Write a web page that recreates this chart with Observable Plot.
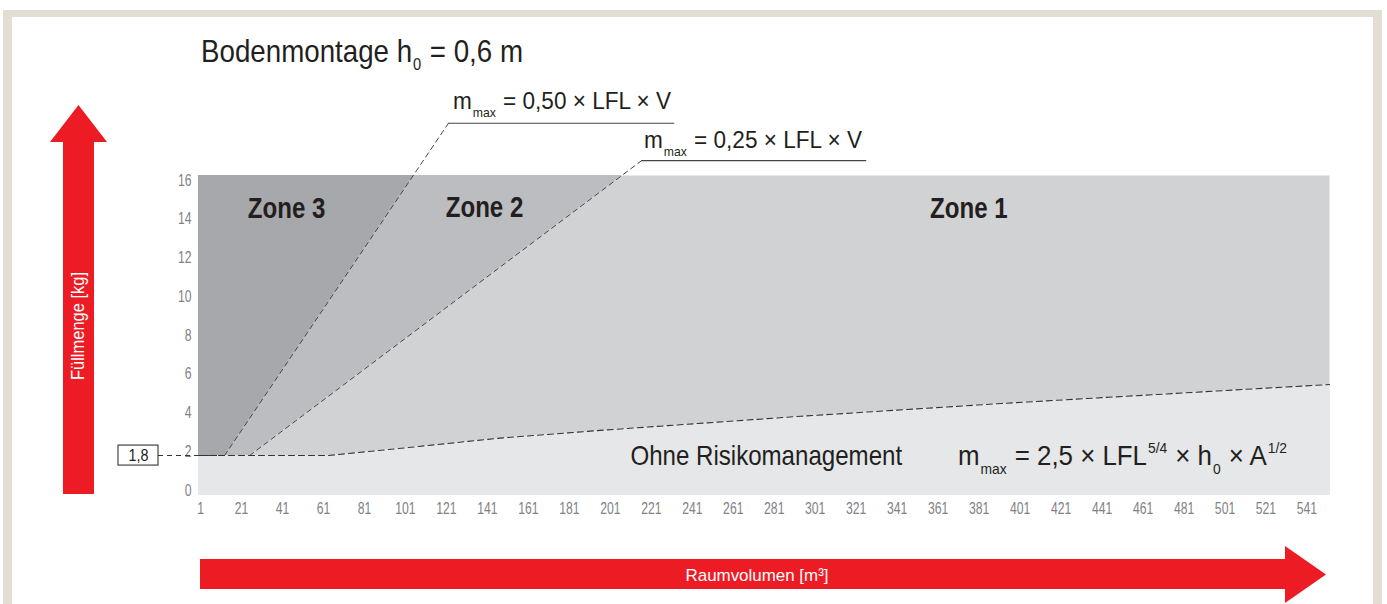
<!DOCTYPE html>
<html>
<head>
<meta charset="utf-8">
<script src="https://cdn.jsdelivr.net/npm/d3@7"></script>
<script src="https://cdn.jsdelivr.net/npm/@observablehq/plot@0.6"></script>
<style>
  html, body { margin: 0; padding: 0; background: #ffffff; }
  #wrap { position: relative; width: 1387px; height: 604px; overflow: hidden; background: #ffffff; }
  #wrap svg { position: absolute; left: 0; top: 0; }
  #overlay { pointer-events: none; font-family: "Liberation Sans", Arial, sans-serif; }
</style>
</head>
<body>
<div id="wrap"></div>
<script>
// ---------- data ----------
const xTicks = [1, 21, 41, 61, 81, 101, 121, 141, 161, 181, 201, 221, 241, 261, 281, 301, 321, 341, 361, 381, 401, 421, 441, 461, 481, 501, 521, 541];
const yTicks = [0, 2, 4, 6, 8, 10, 12, 14, 16];
const minCharge = 1.8;

// boundary m = 0,50 x LFL x V (volume, charge)
const line050V = [12.7, 122];
const line050M = [1.8, 18.96];
// boundary m = 0,25 x LFL x V
const line025V = [24.9, 216.3];
const line025M = [1.8, 17.03];
// boundary "ohne Risikomanagement": m = 2,5 x LFL^5/4 x h0 x A^1/2
const ohneV = [0, 63, 101, 147, 196, 294, 392, 552];
const ohneM = [1.8, 1.8, 2.2, 2.7, 3.1, 3.83, 4.49, 5.47];

// underline extents of the two formula labels
const under050V = [122, 232];
const under025V = [216.3, 325.7];

const zoneNames = ["Zone 3", "Zone 2", "Zone 1"];
const zoneV = [43, 139.6, 376];
const zoneM = [14.55, 14.6, 14.55];

const ohneLabel = "Ohne Risikomanagement";
const ohneLabelV = [210.8];

const xDomain = [0, 552];
const yDomain = [-0.21, 16.26];

// ---------- tables ----------
const pts = (vs, ms) => vs.map((v, i) => ({v, m: ms[i]}));
const l050 = pts(line050V, line050M);
const l025 = pts(line025V, line025M);
const ohne = pts(ohneV, ohneM);
const u050 = under050V.map(v => ({v, m: line050M[1]}));
const u025 = under025V.map(v => ({v, m: line025M[1]}));
const zones = zoneNames.map((name, i) => ({name, v: zoneV[i], m: zoneM[i]}));

const FONT = '"Liberation Sans", Arial, sans-serif';
const INK = "#231f20";
const DASH = "#333333";
const colZone3 = "#a7a8ab", colZone2 = "#bcbdc0", colZone1 = "#d1d2d4", colOhne = "#e6e7e8";

const chart = Plot.plot({
  width: 1387,
  height: 604,
  marginLeft: 198,
  marginRight: 58,
  marginTop: 175,
  marginBottom: 110,
  style: {fontFamily: FONT, fontSize: "16px", color: "#808285", background: "transparent", overflow: "visible"},
  x: {domain: xDomain, label: null},
  y: {domain: yDomain, label: null},
  marks: [
    Plot.frame({fill: colZone1, stroke: null}),
    Plot.areaX(l025, {y: "m", x1: xDomain[0], x2: "v", fill: colZone2, clip: true}),
    Plot.areaX(l050, {y: "m", x1: xDomain[0], x2: "v", fill: colZone3, clip: true}),
    Plot.areaY(ohne, {x: "v", y1: yDomain[0], y2: "m", fill: colOhne, clip: true}),
    Plot.axisX({ticks: xTicks, tickSize: 0, tickPadding: 8, tickFormat: d => String(d), fill: "#808285", fontSize: 16}),
    Plot.axisY({ticks: yTicks, tickSize: 0, tickPadding: 7, tickFormat: d => String(d), fill: "#808285", fontSize: 16}),
    Plot.ruleY([minCharge], {x1: xDomain[0], x2: line050V[0], insetLeft: -40, stroke: DASH, strokeWidth: 1.1, strokeDasharray: "5,4"}),
    Plot.line(ohne, {x: "v", y: "m", stroke: DASH, strokeWidth: 1.1, strokeDasharray: "6,4"}),
    Plot.line(l050, {x: "v", y: "m", stroke: DASH, strokeWidth: 0.9, strokeDasharray: "5,4"}),
    Plot.line(l025, {x: "v", y: "m", stroke: DASH, strokeWidth: 0.9, strokeDasharray: "5,4"}),
    Plot.line(u050, {x: "v", y: "m", stroke: "#444", strokeWidth: 1.1}),
    Plot.line(u025, {x: "v", y: "m", stroke: "#444", strokeWidth: 1.1}),
    Plot.text(zones, {x: "v", y: "m", text: "name", fill: INK, fontSize: 29, fontWeight: "bold"}),
    Plot.text(ohneLabelV, {x: d => d, y: () => minCharge, text: () => ohneLabel, textAnchor: "start", fill: INK, fontSize: 28}),
    Plot.rect([minCharge], {x1: xDomain[0], x2: xDomain[0], y1: d => d, y2: d => d, insetLeft: -80, insetRight: 40, insetTop: -10, insetBottom: -10, fill: "white", stroke: INK, strokeWidth: 1}),
    Plot.text([minCharge], {x: xDomain[0], y: d => d, dx: -60, text: d => String(d).replace(".", ","), fill: INK, fontSize: 16})
  ]
});
document.getElementById("wrap").appendChild(chart);

// condensed look: squeeze glyphs horizontally (no narrow font installed)
chart.querySelectorAll("text").forEach(t => {
  const s = t.textContent;
  let f = 0.76;
  if (zoneNames.includes(s)) f = 0.83;
  else if (s === ohneLabel) f = 0.86;
  else if (s === "1,8") f = 0.9;
  const w = t.getComputedTextLength();
  t.setAttribute("textLength", (w * f).toFixed(1));
  t.setAttribute("lengthAdjust", "spacingAndGlyphs");
});

// ---------- overlay: frame, arrows, formulas ----------
const ns = "http://www.w3.org/2000/svg";
const overlayMarkup = `
<svg id="overlay" xmlns="${ns}" width="1387" height="604" viewBox="0 0 1387 604" style="white-space:pre">
  <rect x="3" y="10" width="9" height="594" fill="#e3ddd3"/>
  <rect x="3" y="10" width="1379" height="7" fill="#e3ddd3"/>
  <rect x="1373" y="10" width="9" height="594" fill="#e3ddd3"/>
  <polygon points="63,494 63,142 50,142 78.5,105 107,142 94,142 94,494" fill="#ed1c24"/>
  <polygon points="200,559 1285,559 1285,546 1326,574.5 1285,603 1285,589 200,589" fill="#ed1c24"/>
  <text transform="translate(84,326) rotate(-90)" text-anchor="middle" font-size="18" fill="#ffffff" textLength="108" lengthAdjust="spacingAndGlyphs">Füllmenge [kg]</text>
  <text x="757" y="581" text-anchor="middle" font-size="17" fill="#ffffff" textLength="143" lengthAdjust="spacingAndGlyphs">Raumvolumen [m³]</text>
  <text x="201" y="62" font-size="32" fill="${INK}" textLength="322" lengthAdjust="spacingAndGlyphs">Bodenmontage h<tspan font-size="17" dx="1" dy="8">0</tspan><tspan dx="1" dy="-8"> = 0,6 m</tspan></text>
  <text x="453" y="109" font-size="24" fill="${INK}" textLength="218" lengthAdjust="spacingAndGlyphs">m<tspan font-size="13" dx="1" dy="8">max</tspan><tspan dx="1" dy="-8"> = 0,50 × LFL × V</tspan></text>
  <text x="644" y="148" font-size="24" fill="${INK}" textLength="218" lengthAdjust="spacingAndGlyphs">m<tspan font-size="13" dx="1" dy="8">max</tspan><tspan dx="1" dy="-8"> = 0,25 × LFL × V</tspan></text>
  <text x="958" y="465" font-size="28" fill="${INK}" textLength="329" lengthAdjust="spacingAndGlyphs">m<tspan font-size="15" dx="1" dy="9">max</tspan><tspan dx="1" dy="-9"> = 2,5 × LFL</tspan><tspan font-size="15" dx="1" dy="-12">5/4</tspan><tspan dx="1" dy="12"> × h</tspan><tspan font-size="15" dx="1" dy="9">0</tspan><tspan dx="1" dy="-9"> × A</tspan><tspan font-size="15" dx="1" dy="-12">1/2</tspan></text>
</svg>`;
document.getElementById("wrap").insertAdjacentHTML("beforeend", overlayMarkup);
</script>
</body>
</html>
